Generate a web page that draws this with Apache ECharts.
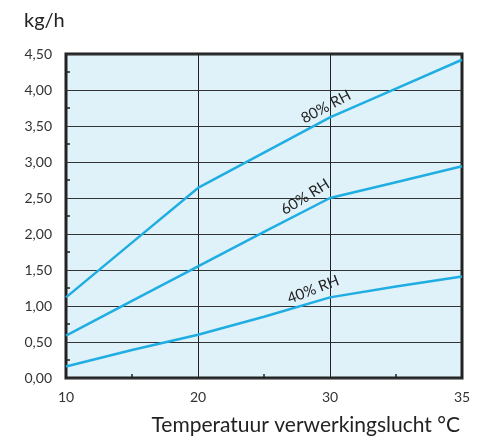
<!DOCTYPE html>
<html><head><meta charset="utf-8">
<script src="https://cdn.jsdelivr.net/npm/echarts@6/dist/echarts.min.js"></script>
<style>html,body{margin:0;padding:0;background:#fff}#c{width:486px;height:441px}</style>
</head><body><div id="c"></div>
<script>
// x positions (°C), equally spaced segments as in the original
const xCats = ['10', '15', '20', '25', '30', '32,5', '35'];
const rh80 = [1.12, 1.88, 2.64, 3.13, 3.62, 4.02, 4.42];
const rh60 = [0.59, 1.07, 1.55, 2.03, 2.50, 2.72, 2.94];
const rh40 = [0.16, 0.39, 0.60, 0.85, 1.12, 1.27, 1.41];
const seriesNames = ['80% RH', '60% RH', '40% RH'];
const yTitle = 'kg/h';
const xTitle = 'Temperatuur verwerkingslucht °C';

const FONT = 'Lato, "DejaVu Sans", sans-serif';
const LINE = '#1fade2';
const labelIdx = 4;

function withLabel(arr, name, rot, off) {
  return arr.map((v, i) => i === labelIdx ? {
    value: v,
    label: { show: true, formatter: name, position: 'top', rotate: rot, offset: off,
      color: '#222', fontSize: 15, fontFamily: FONT, distance: 3 }
  } : v);
}

function mkSeries(name, arr, rot, off) {
  return {
    name, type: 'line', data: withLabel(arr, name, rot, off),
    symbol: 'circle', symbolSize: 0, showSymbol: true, showAllSymbol: true,
    itemStyle: { color: LINE },
    lineStyle: { color: LINE, width: 2.5 }
  };
}

const chart = echarts.init(document.getElementById('c'), null, { renderer: 'canvas' });
chart.setOption({
  animation: false,
  title: [
    { text: yTitle, left: 19, top: 6, textStyle: { fontSize: 20, fontWeight: 'normal', color: '#222', fontFamily: FONT } },
    { text: xTitle, right: 21, top: 410, textStyle: { fontSize: 21, fontWeight: 'normal', color: '#222', fontFamily: FONT } }
  ],
  grid: { left: 66, right: 24, top: 54, bottom: 63, show: true, backgroundColor: '#dff2fa', borderColor: '#222', borderWidth: 3 },
  xAxis: {
    type: 'category', data: xCats, boundaryGap: false,
    axisLine: { show: false },
    axisTick: { show: true, inside: true, length: 4, interval: (i) => i % 2 === 1, lineStyle: { color: '#222', width: 1.5 } },
    axisLabel: { interval: (i) => i % 2 === 0, margin: 12, fontSize: 14, color: '#333', fontFamily: FONT },
    splitLine: { show: true, interval: (i) => i === 2 || i === 4, lineStyle: { color: '#222', width: 1 } }
  },
  yAxis: {
    type: 'value', min: 0, max: 4.5, interval: 0.5,
    axisLine: { show: false },
    axisTick: { show: false, inside: true },
    minorTick: { show: true, splitNumber: 2, length: 4, lineStyle: { color: '#222', width: 1.5 } },
    axisLabel: { formatter: (v) => v.toFixed(2).replace('.', ','), margin: 14, fontSize: 14, color: '#333', fontFamily: FONT },
    splitLine: { show: true, lineStyle: { color: '#333', width: 1 } }
  },
  series: [
    mkSeries(seriesNames[0], rh80, 28, [0, -1]),
    mkSeries(seriesNames[1], rh60, 32, [-22, -4]),
    mkSeries(seriesNames[2], rh40, 21, [-14, -3])
  ]
});
</script></body></html>
